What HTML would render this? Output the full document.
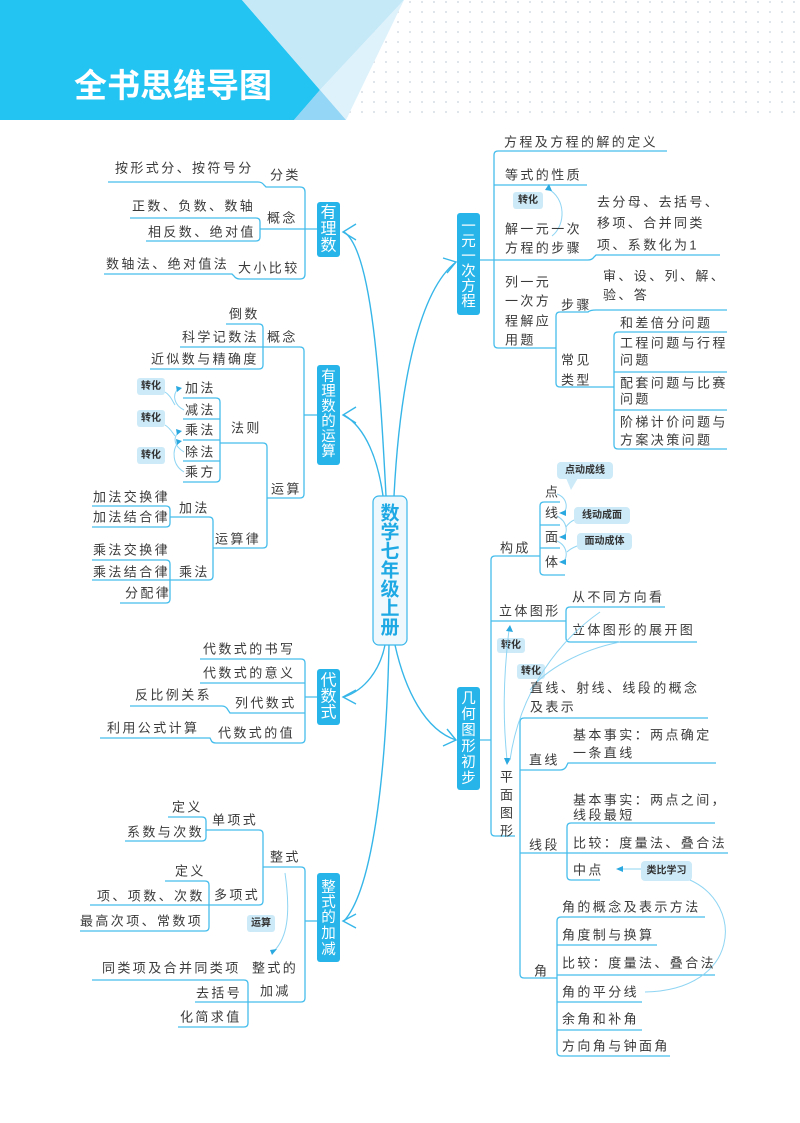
<!DOCTYPE html>
<html><head><meta charset="utf-8"><style>
html,body{margin:0;padding:0;background:#fff;}
body{width:800px;height:1123px;overflow:hidden;position:relative;}
svg{position:absolute;left:0;top:0;}
.t{font-family:"Liberation Sans","Noto Sans CJK SC",sans-serif;font-size:13px;letter-spacing:2.4px;fill:#3a3a3a;dominant-baseline:central;}
.l{fill:none;stroke:#45bdec;stroke-width:1.3;}
.th{fill:none;stroke:#8fd5f3;stroke-width:1;}
.tag{fill:#cdeaf8;}
.tg{font-family:"Liberation Sans","Noto Sans CJK SC",sans-serif;font-size:10px;font-weight:bold;fill:#333;dominant-baseline:central;text-anchor:middle;}
.bx{fill:#27b5e9;}
.bt{font-family:"Liberation Sans","Noto Sans CJK SC",sans-serif;font-size:16px;fill:#fff;text-anchor:middle;dominant-baseline:central;}
.bs{font-family:"Liberation Sans","Noto Sans CJK SC",sans-serif;font-size:14.5px;fill:#fff;text-anchor:middle;dominant-baseline:central;}
.ct{font-family:"Liberation Sans","Noto Sans CJK SC",sans-serif;font-size:19px;font-weight:bold;fill:#1ea8e4;text-anchor:middle;dominant-baseline:central;}
.ar{fill:#2aa8e0;}
.ml{fill:none;stroke:#36b6e8;stroke-width:1.4;}
</style></head><body>
<svg width="800" height="1123" viewBox="0 0 800 1123">
<defs>
<pattern id="dots" width="12" height="10" patternUnits="userSpaceOnUse"><circle cx="2" cy="2" r="0.9" fill="#c9d3dc"/></pattern>
</defs>
<rect x="330" y="0" width="470" height="120" fill="url(#dots)"/>
<polygon points="0,0 242,0 320,90 294,120 0,120" fill="#23c3f2"/>
<polygon points="242,0 404,0 320,90" fill="#c6e9f8"/>
<polygon points="404,0 346,120 320,90" fill="#def2fb"/>
<polygon points="320,90 346,120 294,120" fill="#93d6f5"/>
<text x="74" y="97" font-family="Liberation Sans,'Noto Sans CJK SC',sans-serif" font-size="33" font-weight="bold" fill="#fff">全书思维导图</text>

<path class="ml" d="M386,496 C380,380 372,250 344,232"/>
<path class="ml" d="M356,224 L343,232 L356,240"/>
<path class="ml" d="M383,496 C378,460 366,428 344,415"/>
<path class="ml" d="M356,407 L343,415 L356,423"/>
<path class="ml" d="M394,496 C400,380 420,290 456,262"/>
<path class="ml" d="M443,258 L456,262 L447,273"/>
<path class="ml" d="M385,645 C380,670 365,690 344,697"/>
<path class="ml" d="M356,690 L343,697 L356,704"/>
<path class="ml" d="M389,645 C386,780 372,890 344,921"/>
<path class="ml" d="M356,914 L343,921 L356,928"/>
<path class="ml" d="M395,645 C405,690 425,730 456,740"/>
<path class="ml" d="M447,729 L456,740 L443,746"/>

<rect x="373" y="496" width="34" height="149" rx="6" fill="#eef8fd" stroke="#3ab7ea" stroke-width="1.2"/>
<text class="ct" x="390" y="514">数</text><text class="ct" x="390" y="533">学</text><text class="ct" x="390" y="552">七</text><text class="ct" x="390" y="571">年</text><text class="ct" x="390" y="590">级</text><text class="ct" x="390" y="609">上</text><text class="ct" x="390" y="628">册</text>

<rect class="bx" x="317" y="202" width="23" height="55" rx="3"/>
<text class="bt" x="328.5" y="213">有</text><text class="bt" x="328.5" y="229.5">理</text><text class="bt" x="328.5" y="246">数</text>
<rect class="bx" x="317" y="365" width="23" height="100" rx="3"/>
<text class="bs" x="328.5" y="377">有</text><text class="bs" x="328.5" y="392">理</text><text class="bs" x="328.5" y="407">数</text><text class="bs" x="328.5" y="422">的</text><text class="bs" x="328.5" y="437">运</text><text class="bs" x="328.5" y="452">算</text>
<rect class="bx" x="317" y="669" width="23" height="56" rx="3"/>
<text class="bt" x="328.5" y="681">代</text><text class="bt" x="328.5" y="697">数</text><text class="bt" x="328.5" y="713">式</text>
<rect class="bx" x="317" y="873" width="23" height="89" rx="3"/>
<text class="bs" x="328.5" y="888">整</text><text class="bs" x="328.5" y="903">式</text><text class="bs" x="328.5" y="918">的</text><text class="bs" x="328.5" y="934">加</text><text class="bs" x="328.5" y="950">减</text>
<rect class="bx" x="457" y="213" width="23" height="102" rx="3"/>
<text class="bs" x="468.5" y="227">一</text><text class="bs" x="468.5" y="242">元</text><text class="bs" x="468.5" y="257">一</text><text class="bs" x="468.5" y="272">次</text><text class="bs" x="468.5" y="287">方</text><text class="bs" x="468.5" y="302">程</text>
<rect class="bx" x="457" y="687" width="23" height="103" rx="3"/>
<text class="bs" x="468.5" y="699">几</text><text class="bs" x="468.5" y="715">何</text><text class="bs" x="468.5" y="731">图</text><text class="bs" x="468.5" y="747">形</text><text class="bs" x="468.5" y="763">初</text><text class="bs" x="468.5" y="779">步</text>

<path class="l" d="M108,182 H258 Q262,182 264,185 L266,187 H300 Q305,187 305,192 V274 Q305,279 300,279 H240 Q236,279 234,276 L232,274 H104"/>
<path class="l" d="M130,218 H256 Q260,218 260,222 V237 Q260,241 256,241 H146"/>
<path class="l" d="M260,229 H317"/>
<text class="t" x="115" y="168">按形式分、按符号分</text>
<text class="t" x="270" y="175">分类</text>
<text class="t" x="132" y="206">正数、负数、数轴</text>
<text class="t" x="148" y="232">相反数、绝对值</text>
<text class="t" x="267" y="218">概念</text>
<text class="t" x="106" y="264">数轴法、绝对值法</text>
<text class="t" x="238" y="268">大小比较</text>

<path class="l" d="M226,324 H259 Q263,324 263,328 V365 Q263,369 259,369 H150"/>
<path class="l" d="M180,347 H300 Q304,347 304,351 V494 Q304,498 300,498 H267"/>
<path class="l" d="M304,415 H317"/>
<path class="l" d="M183,398 H216 Q220,398 220,402 V478 Q220,482 216,482 H183 M183,419 H220 M183,440 H220 M183,461 H220"/>
<path class="l" d="M220,443 H263 Q267,443 267,447 V544 Q267,548 263,548 H213"/>
<path class="l" d="M92,506 H166 Q170,506 170,510 V523 Q170,527 166,527 H92"/>
<path class="l" d="M170,517 H209 Q213,517 213,521 V576 Q213,580 209,580 H170"/>
<path class="l" d="M92,560 H166 Q170,560 170,564 V599 Q170,603 166,603 H120 M92,580 H170"/>
<text class="t" x="229" y="314">倒数</text>
<text class="t" x="182" y="337">科学记数法</text>
<text class="t" x="151" y="359">近似数与精确度</text>
<text class="t" x="267" y="337">概念</text>
<text class="t" x="185" y="388">加法</text>
<text class="t" x="185" y="410">减法</text>
<text class="t" x="185" y="430">乘法</text>
<text class="t" x="185" y="452">除法</text>
<text class="t" x="185" y="472">乘方</text>
<text class="t" x="231" y="428">法则</text>
<text class="t" x="271" y="489">运算</text>
<text class="t" x="93" y="497">加法交换律</text>
<text class="t" x="93" y="517">加法结合律</text>
<text class="t" x="179" y="508">加法</text>
<text class="t" x="215" y="539">运算律</text>
<text class="t" x="93" y="550">乘法交换律</text>
<text class="t" x="93" y="572">乘法结合律</text>
<text class="t" x="125" y="593">分配律</text>
<text class="t" x="179" y="572">乘法</text>
<rect class="tag" x="137" y="378" width="28" height="17" rx="3"/><text class="tg" x="151" y="386.5">转化</text>
<rect class="tag" x="137" y="410" width="28" height="17" rx="3"/><text class="tg" x="151" y="418.5">转化</text>
<rect class="tag" x="137" y="447" width="28" height="17" rx="3"/><text class="tg" x="151" y="455.5">转化</text>
<path class="th" d="M184,410 C174,405 172,395 178,389 M184,452 C174,446 173,438 178,433 M184,472 C172,465 172,450 178,443 M165,392 C170,395 172,400 175,405 M165,425 C170,428 172,432 175,436"/>
<polygon class="ar" points="176,386 182,388 177,392"/>
<polygon class="ar" points="176,429 182,431 177,435"/>
<polygon class="ar" points="176,439 182,441 177,445"/>

<path class="l" d="M200,659 H301 Q305,659 305,663 V739 Q305,743 301,743 H216 Q212,743 211,740 L210,738 H100"/>
<path class="l" d="M200,683 H305 M130,706 H222 Q226,706 228,710 L230,713 H305 M305,697 H317"/>
<text class="t" x="203" y="649">代数式的书写</text>
<text class="t" x="203" y="673">代数式的意义</text>
<text class="t" x="135" y="695">反比例关系</text>
<text class="t" x="235" y="703">列代数式</text>
<text class="t" x="107" y="728">利用公式计算</text>
<text class="t" x="218" y="733">代数式的值</text>

<path class="l" d="M168,817 H202 Q206,817 206,821 V837 Q206,841 202,841 H125"/>
<path class="l" d="M206,830 H259 Q263,830 263,834 V901 Q263,905 259,905 H90"/>
<path class="l" d="M263,867 H301 Q305,867 305,871 V998 Q305,1002 301,1002 H248"/>
<path class="l" d="M305,921 H317"/>
<path class="l" d="M165,881 H205 Q209,881 209,885 V927 Q209,931 205,931 H80"/>
<path class="l" d="M92,980 H244 Q248,980 248,984 V1023 Q248,1027 244,1027 H178 M195,1002 H248"/>
<text class="t" x="172" y="807">定义</text>
<text class="t" x="127" y="832">系数与次数</text>
<text class="t" x="212" y="820">单项式</text>
<text class="t" x="270" y="857">整式</text>
<text class="t" x="175" y="871">定义</text>
<text class="t" x="97" y="896">项、项数、次数</text>
<text class="t" x="214" y="895">多项式</text>
<text class="t" x="80" y="921">最高次项、常数项</text>
<text class="t" x="102" y="968">同类项及合并同类项</text>
<text class="t" x="252" y="968">整式的</text>
<text class="t" x="260" y="991">加减</text>
<text class="t" x="196" y="993">去括号</text>
<text class="t" x="180" y="1017">化简求值</text>
<rect class="tag" x="247" y="915" width="28" height="17" rx="3"/><text class="tg" x="261" y="923.5">运算</text>
<path class="th" d="M285,873 C291,915 287,938 274,951"/>
<polygon class="ar" points="270,950 277,949 272,955"/>

<path class="l" d="M667,151 H498 Q494,151 494,155 V344 Q494,348 498,348 H556"/>
<path class="l" d="M494,185 H587 M480,260 H588 Q592,260 594,257 L596,255 H720"/>
<path class="l" d="M727,310 H596 Q590,310 588,312 H560 Q556,312 556,316 V383 Q556,387 560,387 H614"/>
<path class="l" d="M727,332 H618 Q614,332 614,336 V445 Q614,449 618,449 H727 M614,372 H727 M614,410 H727"/>
<text class="t" x="504" y="142">方程及方程的解的定义</text>
<text class="t" x="505" y="175">等式的性质</text>
<rect class="tag" x="513" y="192" width="30" height="17" rx="3"/><text class="tg" x="528" y="200.5">转化</text>
<path class="th" d="M548,189 C566,198 566,225 552,236"/>
<polygon class="ar" points="545,190 549,184 552,191"/>
<text class="t" x="505" y="229">解一元一次</text>
<text class="t" x="505" y="248">方程的步骤</text>
<text class="t" x="597" y="202">去分母、去括号、</text>
<text class="t" x="597" y="223">移项、合并同类</text>
<text class="t" x="597" y="245">项、系数化为1</text>
<text class="t" x="505" y="282">列一元</text>
<text class="t" x="505" y="301">一次方</text>
<text class="t" x="505" y="321">程解应</text>
<text class="t" x="505" y="340">用题</text>
<text class="t" x="561" y="305">步骤</text>
<text class="t" x="603" y="276">审、设、列、解、</text>
<text class="t" x="603" y="295">验、答</text>
<text class="t" x="561" y="360">常见</text>
<text class="t" x="561" y="380">类型</text>
<text class="t" x="620" y="323">和差倍分问题</text>
<text class="t" x="620" y="343">工程问题与行程</text>
<text class="t" x="620" y="360">问题</text>
<text class="t" x="620" y="383">配套问题与比赛</text>
<text class="t" x="620" y="399">问题</text>
<text class="t" x="620" y="422">阶梯计价问题与</text>
<text class="t" x="620" y="440">方案决策问题</text>

<path class="l" d="M560,502 H544 Q540,502 540,506 V571 Q540,575 544,575 H565 M540,525 H560 M540,548 H560"/>
<path class="l" d="M540,556 H495 Q491,556 491,560 V832 Q491,836 495,836 H515 M480,740 H491"/>
<path class="l" d="M491,621 H566 M665,607 H570 Q566,607 566,611 V638 Q566,642 570,642 H697"/>
<path class="l" d="M708,718 H524 Q520,718 520,722 V974 Q520,978 524,978 H557"/>
<path class="l" d="M520,770 H560 Q564,770 566,767 L568,763 H716 M520,853 H728"/>
<path class="l" d="M715,823 H571 Q567,823 567,827 V876 Q567,880 571,880 H600"/>
<path class="l" d="M705,917 H561 Q557,917 557,921 V1052 Q557,1056 561,1056 H670 M557,945 H657 M557,975 H715 M557,1002 H642 M557,1030 H642"/>

<rect class="tag" x="557" y="462" width="56" height="17" rx="4"/><polygon class="tag" points="566,478 578,478 571,490"/>
<text class="tg" x="585" y="470.5">点动成线</text>
<rect class="tag" x="574" y="507" width="56" height="17" rx="4"/><text class="tg" x="602" y="515.5">线动成面</text>
<rect class="tag" x="577" y="533" width="55" height="17" rx="4"/><text class="tg" x="604.5" y="541.5">面动成体</text>
<path class="th" d="M557,494 C568,498 568,510 563,513 M557,516 C568,522 568,533 563,537 M557,541 C568,546 568,558 563,562 M574,520 C570,522 568,524 566,527 M577,546 C572,548 569,550 567,552"/>
<polygon class="ar" points="566,510 559,513 566,516"/>
<polygon class="ar" points="566,534 559,537 566,540"/>
<polygon class="ar" points="566,559 559,562 566,565"/>
<text class="t" x="545" y="492">点</text>
<text class="t" x="545" y="513">线</text>
<text class="t" x="545" y="537">面</text>
<text class="t" x="545" y="562">体</text>
<text class="t" x="500" y="548">构成</text>
<text class="t" x="499" y="611">立体图形</text>
<text class="t" x="572" y="597">从不同方向看</text>
<text class="t" x="572" y="630">立体图形的展开图</text>
<rect class="tag" x="497" y="638" width="28" height="15" rx="3"/><text class="tg" x="511" y="645.5">转化</text>
<rect class="tag" x="517" y="664" width="28" height="15" rx="3"/><text class="tg" x="531" y="671.5">转化</text>
<path class="th" d="M509,630 C503,680 503,720 507,760"/>
<polygon class="ar" points="506,631 510,625 513,632"/>
<polygon class="ar" points="504,758 511,758 507,765"/>
<path class="th" d="M600,612 C560,640 520,690 510,760"/>
<path class="th" d="M620,642 C580,650 545,670 530,690"/>
<text class="t" x="530" y="688">直线、射线、线段的概念</text>
<text class="t" x="530" y="707">及表示</text>
<text class="t" x="500" y="777">平</text><text class="t" x="500" y="795">面</text><text class="t" x="500" y="813">图</text><text class="t" x="500" y="831">形</text>
<text class="t" x="529" y="760">直线</text>
<text class="t" x="573" y="735">基本事实：两点确定</text>
<text class="t" x="573" y="753">一条直线</text>
<text class="t" x="573" y="800">基本事实：两点之间，</text>
<text class="t" x="573" y="815">线段最短</text>
<text class="t" x="529" y="845">线段</text>
<text class="t" x="573" y="843">比较：度量法、叠合法</text>
<text class="t" x="573" y="870">中点</text>
<rect class="tag" x="641" y="861" width="51" height="20" rx="4"/><text class="tg" x="666.5" y="871">类比学习</text>
<path class="th" d="M641,869 H620"/>
<polygon class="ar" points="623,866 616,869 623,872"/>
<path class="th" d="M690,880 C745,905 740,990 645,992"/>
<text class="t" x="562" y="907">角的概念及表示方法</text>
<text class="t" x="562" y="935">角度制与换算</text>
<text class="t" x="562" y="963">比较：度量法、叠合法</text>
<text class="t" x="562" y="992">角的平分线</text>
<text class="t" x="562" y="1019">余角和补角</text>
<text class="t" x="562" y="1046">方向角与钟面角</text>
<text class="t" x="534" y="971">角</text>
</svg>
</body></html>
